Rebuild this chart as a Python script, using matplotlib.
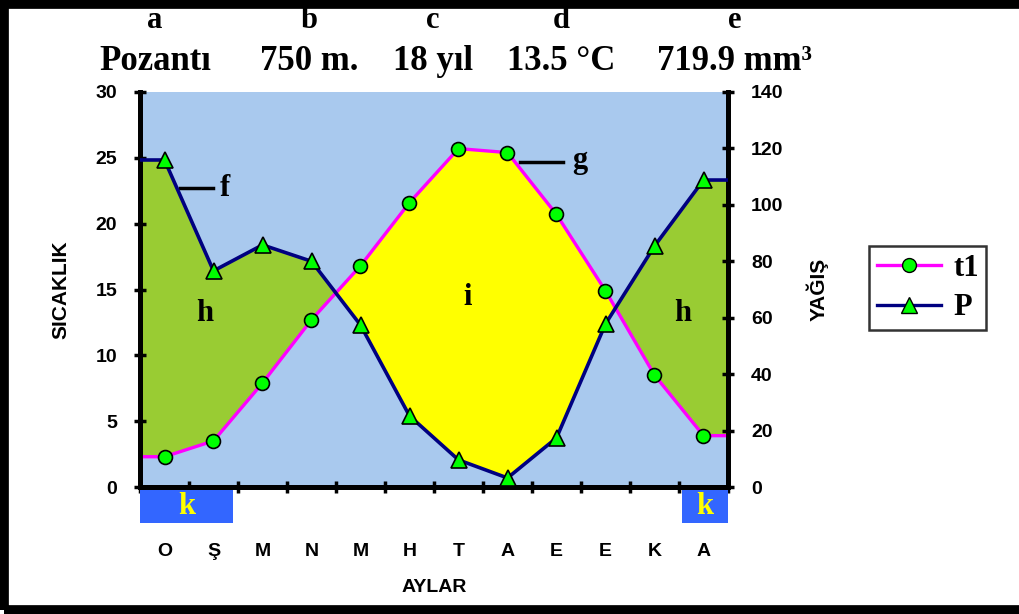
import matplotlib.pyplot as plt
import numpy as np
from matplotlib.lines import Line2D
from matplotlib.patches import Rectangle

# Pozanti climate diagram data
months = ["O", "Ş", "M", "N", "M", "H", "T", "A", "E", "E", "K", "A"]
temp = [2.3, 3.5, 7.9, 12.7, 16.8, 21.6, 25.7, 25.4, 20.7, 14.9, 8.5, 3.9]
precip = [115.9, 76.6, 85.8, 80.0, 57.4, 25.2, 9.6, 3.2, 17.4, 57.8, 85.4, 108.8]
header_letters = ["a", "b", "c", "d", "e"]
header_texts = ["Pozantı", "750 m.", "18 yıl", "13.5 °C", "719.9 mm³"]

t_max, p_max = 30, 140

SERIF = "Liberation Serif"
SANS = "Liberation Sans"


def main():
    fig = plt.figure(figsize=(10.2, 6.14), dpi=100)
    ax = fig.add_axes([140 / 1020, 127 / 614, 588 / 1020, 395 / 614])
    ax2 = ax.twinx()

    x = np.arange(len(months))
    t = np.array(temp)
    p = np.array(precip)
    # precipitation expressed in temperature units for the fills
    p_as_t = p * t_max / p_max

    # lines run out flat to both edges of the plot
    xe = np.r_[-0.5, x, len(months) - 0.5]
    te = np.r_[t[0], t, t[-1]]
    pe = np.r_[p[0], p, p[-1]]
    pte = np.r_[p_as_t[0], p_as_t, p_as_t[-1]]

    ax.set_facecolor("#a9c9ee")
    ax.fill_between(xe, te, pte, where=pte >= te, interpolate=True,
                    color="#99cc33", lw=0)
    ax.fill_between(xe, te, pte, where=te >= pte, interpolate=True,
                    color="#ffff00", lw=0)

    ax.plot(xe, te, color="#ff00ff", lw=2.4, zorder=3)
    ax.plot(x, t, ls="none", marker="o", ms=10, mfc="#00ff00",
            mec="black", mew=1.2, zorder=4)
    ax2.plot(xe, pe, color="#000080", lw=2.6, zorder=3)
    ax2.plot(x, p, ls="none", marker="^", ms=12, mfc="#00ff00",
             mec="black", mew=1.2, zorder=4)

    ax.set_xlim(-0.5, len(months) - 0.5)
    ax.set_ylim(0, t_max)
    ax2.set_ylim(0, p_max)
    ax.set_yticks(range(0, t_max + 1, 5))
    ax2.set_yticks(range(0, p_max + 1, 20))

    # spines
    for a in (ax, ax2):
        a.spines["top"].set_visible(False)
        for s in ("left", "right", "bottom"):
            a.spines[s].set_linewidth(3.5)
    ax.tick_params(axis="y", direction="inout", length=9, width=2.5, pad=12,
                   labelsize=14)
    ax2.tick_params(axis="y", direction="inout", length=9, width=2.5, pad=12,
                    labelsize=14)
    for lab in ax.get_yticklabels() + ax2.get_yticklabels():
        lab.set_fontfamily(SANS)
        lab.set_fontweight("bold")

    # month labels at centres, tick marks at month boundaries
    ax.set_xticks(x)
    ax.set_xticklabels(months, fontfamily=SANS, fontweight="bold", fontsize=14)
    ax.tick_params(axis="x", which="major", length=0, pad=40)
    ax.set_xticks(np.arange(-0.5, len(months), 1), minor=True)
    ax.tick_params(axis="x", which="minor", direction="inout", length=9,
                   width=2.5)

    ax.set_xlabel("AYLAR", fontfamily=SANS, fontweight="bold", fontsize=14,
                  labelpad=14)
    ax.set_ylabel("SICAKLIK", fontfamily=SANS, fontweight="bold", fontsize=15,
                  labelpad=18)
    ax2.set_ylabel("YAĞIŞ", fontfamily=SANS, fontweight="bold", fontsize=15,
                   rotation=90, labelpad=16)

    # cold-month boxes under the axis
    for x0, w in [(0.0, 0.158), (0.922, 0.078)]:
        ax.add_patch(Rectangle((x0, -0.091), w, 0.083, transform=ax.transAxes,
                               facecolor="#3366ff", edgecolor="none",
                               clip_on=False, zorder=5))
        ax.text(x0 + w / 2, -0.05, "k", transform=ax.transAxes, ha="center",
                va="center", color="#ffff00", fontfamily=SERIF,
                fontweight="bold", fontsize=22, zorder=6)

    # letter annotations
    lab_kw = dict(fontfamily=SERIF, fontweight="bold", fontsize=22,
                  ha="center", va="center", zorder=6)
    ax.plot([0.32, 0.99], [22.7, 22.7], color="black", lw=2.5, zorder=6)
    ax.text(1.23, 22.7, "f", **lab_kw)
    ax.plot([7.26, 8.13], [24.7, 24.7], color="black", lw=2.5, zorder=6)
    ax.text(8.48, 24.8, "g", **lab_kw)
    ax.text(0.83, 13.2, "h", **lab_kw)
    ax.text(10.58, 13.2, "h", **lab_kw)
    ax.text(6.19, 14.4, "i", **lab_kw)

    # header rows
    xs = [155, 309, 433, 561, 735]
    for xp, letter, txt in zip(xs, header_letters, header_texts):
        fig.text(xp / 1020, 1 - 20 / 614, letter, ha="center", va="center",
                 fontfamily=SERIF, fontweight="bold", fontsize=22)
        fig.text(xp / 1020, 1 - 62 / 614, txt, ha="center", va="center",
                 fontfamily=SERIF, fontweight="bold", fontsize=25)

    # legend
    handles = [
        Line2D([0], [0], color="#ff00ff", lw=2.4, marker="o", ms=10,
               mfc="#00ff00", mec="black", label="t1"),
        Line2D([0], [0], color="#000080", lw=2.4, marker="^", ms=12,
               mfc="#00ff00", mec="black", label="P"),
    ]
    leg = fig.legend(handles=handles, loc="upper left",
                     bbox_to_anchor=(869 / 1020, 1 - 246 / 614),
                     prop={"family": SERIF, "weight": "bold", "size": 22},
                     frameon=True, fancybox=False, handlelength=2.1,
                     borderpad=0.25, labelspacing=0.35, handletextpad=0.4,
                     borderaxespad=0)
    leg.get_frame().set_edgecolor("black")
    leg.get_frame().set_linewidth(1.8)

    # outer frame
    fig.add_artist(Rectangle((0.004, 0.006), 1.2, 0.988,
                             transform=fig.transFigure, fill=False,
                             edgecolor="black", lw=7))

    fig.savefig("out.png", dpi=100)


if __name__ == "__main__":
    main()
